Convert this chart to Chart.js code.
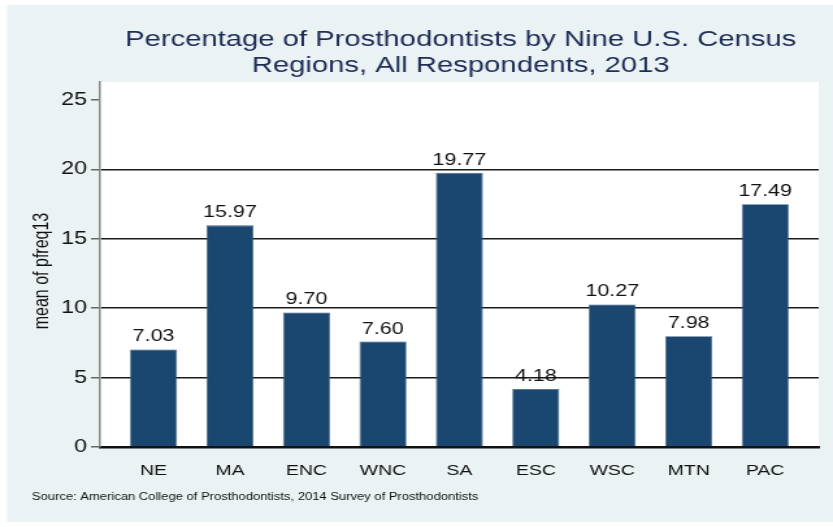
<!DOCTYPE html>
<html>
<head>
<meta charset="utf-8">
<script src="https://cdn.jsdelivr.net/npm/chart.js@4.4.1/dist/chart.umd.min.js"></script>
<style>
  html, body { margin: 0; padding: 0; background: #fff; overflow: hidden; }
  /* the reference is stretched sideways, so draw narrow and widen it */
  #wrap { width: 641px; height: 527px; transform: scaleX(1.2995); transform-origin: 0 0; }
</style>
</head>
<body>
<div id="wrap"><canvas id="chart" width="641" height="527" style="width:641px;height:527px"></canvas></div>
<script>
const regions = ["NE", "MA", "ENC", "WNC", "SA", "ESC", "WSC", "MTN", "PAC"];
const pfreq13 = [7.03, 15.97, 9.70, 7.60, 19.77, 4.18, 10.27, 7.98, 17.49];
const yTicks = [0, 5, 10, 15, 20, 25];
const titleLines = ["Percentage of Prosthodontists by Nine U.S. Census", "Regions, All Respondents, 2013"];
const yTitle = "mean of pfreq13";
const note = "Source: American College of Prosthodontists, 2014 Survey of Prosthodontists";

const FONT = '"Liberation Sans", Arial, Helvetica, sans-serif';
const barCol = "#1a476f";
const bgCol = "#eaf2f3";
Chart.defaults.font.family = FONT;
Chart.defaults.color = "#111";

const decor = {
    id: "decor",
    beforeDraw(chart) {
        const { ctx, chartArea: a } = chart;
        ctx.save();
        ctx.fillStyle = bgCol;
        ctx.fillRect(5.4, 5, chart.width - 5.4, 517);
        ctx.fillStyle = "#fff";
        ctx.fillRect(a.left, a.top, a.right - a.left, a.bottom - a.top);
        ctx.restore();
    },
    afterDatasetsDraw(chart) {
        const { ctx } = chart;
        const meta = chart.getDatasetMeta(0);
        ctx.save();
        ctx.fillStyle = "#111";
        ctx.font = "16.5px " + FONT;
        ctx.textAlign = "center";
        ctx.textBaseline = "alphabetic";
        meta.data.forEach((bar, i) => {
            ctx.fillText(pfreq13[i].toFixed(2), bar.x, bar.y - 8);
        });
        ctx.restore();
    },
    afterDraw(chart) {
        const { ctx } = chart;
        ctx.save();
        ctx.fillStyle = "#1e2c57";
        ctx.font = "22.5px " + FONT;
        ctx.textAlign = "center";
        ctx.textBaseline = "middle";
        ctx.fillText(titleLines[0], 354.5, 40);
        ctx.fillText(titleLines[1], 354.5, 66);

        ctx.fillStyle = "#111";
        ctx.font = "16px " + FONT;
        ctx.translate(32.3, 271);
        ctx.rotate(-Math.PI / 2);
        ctx.fillText(yTitle, 0, 0);
        ctx.restore();

        ctx.save();
        ctx.fillStyle = "#111";
        ctx.font = "10px " + FONT;
        ctx.textAlign = "left";
        ctx.textBaseline = "middle";
        ctx.fillText(note, 24.6, 497);
        ctx.restore();
    }
};

new Chart(document.getElementById("chart"), {
    type: "bar",
    data: {
        datasets: [{
            data: pfreq13.map((v, i) => ({ x: i + 1, y: v })),
            backgroundColor: barCol,
            borderColor: "#3d6287",
            borderWidth: 0.8,
            barPercentage: 0.615,
            categoryPercentage: 1
        }]
    },
    options: {
        responsive: false,
        animation: false,
        events: [],
        layout: { padding: { top: 82, left: 0, right: 11, bottom: 0 } },
        plugins: { legend: { display: false }, tooltip: { enabled: false } },
        scales: {
            x: {
                type: "linear",
                offset: false,
                min: 0.3,
                max: 9.7,
                afterBuildTicks: (s) => { s.ticks = regions.map((r, i) => ({ value: i + 1 })); },
                afterFit: (s) => { s.height = 80; },
                grid: { display: false, offset: false },
                border: { display: true, color: "#111", width: 2.5 },
                ticks: {
                    autoSkip: false,
                    maxRotation: 0,
                    padding: 7,
                    font: { size: 15 },
                    color: "#111",
                    callback: (v) => regions[v - 1]
                }
            },
            y: {
                min: 0,
                max: 26.3,
                afterBuildTicks: (s) => { s.ticks = yTicks.map((v) => ({ value: v })); },
                afterFit: (s) => { s.width = 77; },
                grid: {
                    color: (c) => (c.tick && c.tick.value > 0 && c.tick.value < 25 ? "#1a1a1a" : "rgba(0,0,0,0)"),
                    tickColor: "#666",
                    lineWidth: 1.5,
                    tickLength: 7
                },
                border: { display: true, color: "#888", width: 1.5 },
                ticks: { padding: 3, font: { size: 18 }, color: "#111" }
            }
        }
    },
    plugins: [decor]
});
</script>
</body>
</html>
